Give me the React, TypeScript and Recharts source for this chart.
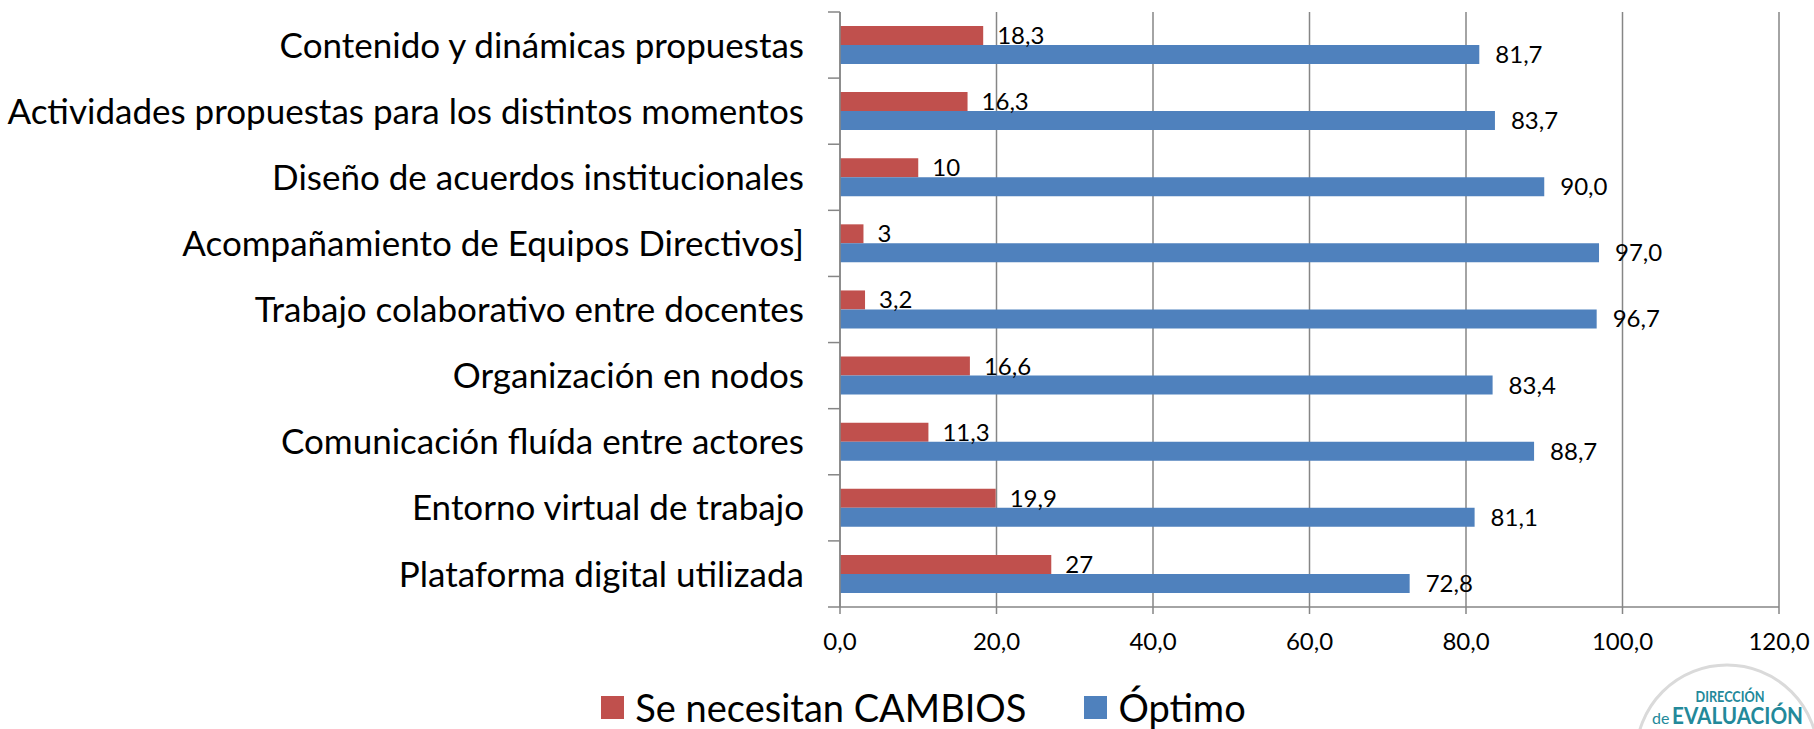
import { BarChart, Bar, XAxis, YAxis, CartesianGrid, Legend, LabelList } from "recharts";

const categories = [
  "Contenido y dinámicas propuestas",
  "Actividades propuestas para los distintos momentos",
  "Diseño de acuerdos institucionales",
  "Acompañamiento de Equipos Directivos]",
  "Trabajo colaborativo entre docentes",
  "Organización en nodos",
  "Comunicación fluída entre actores",
  "Entorno virtual de trabajo",
  "Plataforma digital utilizada",
];
const cambios = [18.3, 16.3, 10, 3, 3.2, 16.6, 11.3, 19.9, 27];
const optimo = [81.7, 83.7, 90.0, 97.0, 96.7, 83.4, 88.7, 81.1, 72.8];
const xTicks = [0, 20, 40, 60, 80, 100, 120];
const seriesNames = ["Se necesitan CAMBIOS", "Óptimo"];

const RED = "#C0504D";
const BLUE = "#4F81BD";
const GRID = "#868686";
const TEAL = "#23899a";
const FONT = "Lato, 'Noto Sans', sans-serif";

const W = 1814;
const H = 729;
const YAXIS_W = 840;

const data = categories.map((name, i) => ({
  name,
  cambios: cambios[i],
  optimo: optimo[i],
}));

const comma = (v: number) => String(v).replace(".", ",");
const comma1 = (v: number) => v.toFixed(1).replace(".", ",");

function CategoryTick(props: any) {
  const { y, payload, index } = props;
  const half = payload?.offset || 33;
  const ax = YAXIS_W;
  return (
    <g>
      <line x1={ax - 12} x2={ax} y1={y - half} y2={y - half} stroke={GRID} strokeWidth={1.5} />
      {index === categories.length - 1 && (
        <line x1={ax - 12} x2={ax} y1={y + half} y2={y + half} stroke={GRID} strokeWidth={1.5} />
      )}
      <text x={ax - 36} y={y} dy="0.36em" textAnchor="end" fontSize={35} fill="#000">
        {payload.value}
      </text>
    </g>
  );
}

function LegendContent(props: any) {
  const items = props.payload || [];
  return (
    <div
      style={{
        display: "flex",
        justifyContent: "center",
        alignItems: "center",
        height: 44,
        paddingLeft: 68,
        boxSizing: "border-box",
        fontSize: 38,
        color: "#000",
      }}
    >
      {items.map((it: any, i: number) => (
        <div key={i} style={{ display: "flex", alignItems: "center", marginRight: i === 0 ? 58 : 0 }}>
          <span style={{ width: 23, height: 23, background: it.color, marginRight: 11, display: "inline-block" }} />
          <span>{it.value}</span>
        </div>
      ))}
    </div>
  );
}

export default function App() {
  return (
    <div style={{ position: "relative", width: W, height: H, fontFamily: FONT, background: "#fff", overflow: "hidden" }}>
      <style>{"body{margin:0}"}</style>
      <BarChart
        width={W}
        height={H}
        data={data}
        layout="vertical"
        margin={{ top: 12, right: 35, left: 0, bottom: 0 }}
        barGap={0}
      >
        <CartesianGrid horizontal={false} stroke={GRID} strokeWidth={1.5} />
        <XAxis
          type="number"
          domain={[0, 120]}
          ticks={xTicks}
          tickFormatter={comma1}
          height={78}
          tickSize={7}
          tickMargin={19}
          stroke={GRID}
          strokeWidth={1.5}
          tick={{ fontSize: 24, fill: "#000" }}
        />
        <YAxis
          type="category"
          dataKey="name"
          width={YAXIS_W}
          interval={0}
          tickLine={false}
          stroke={GRID}
          strokeWidth={1.5}
          tick={<CategoryTick />}
        />
        <Legend verticalAlign="bottom" height={44} content={<LegendContent />} />
        <Bar dataKey="cambios" name={seriesNames[0]} fill={RED} barSize={19} isAnimationActive={false}>
          <LabelList dataKey="cambios" position="right" offset={14} formatter={(v: any) => comma(v)} fill="#000" fontSize={24} />
        </Bar>
        <Bar dataKey="optimo" name={seriesNames[1]} fill={BLUE} barSize={19} isAnimationActive={false}>
          <LabelList dataKey="optimo" position="right" offset={16} formatter={(v: any) => comma1(v)} fill="#000" fontSize={24} />
        </Bar>
      </BarChart>
      <svg width={W} height={H} style={{ position: "absolute", left: 0, top: 0, pointerEvents: "none" }}>
        <circle cx={1727} cy={756} r={91} fill="none" stroke="#dadada" strokeWidth={3} />
        <text x={1730} y={702} textAnchor="middle" fontSize={15} fontWeight={700} fill={TEAL} textLength={69} lengthAdjust="spacingAndGlyphs">
          DIRECCIÓN
        </text>
        <text x={1652} y={724} fontSize={16} fill={TEAL}>de</text>
        <text x={1672} y={724} fontSize={22} fontWeight={700} fill={TEAL} textLength={131} lengthAdjust="spacingAndGlyphs">
          EVALUACIÓN
        </text>
      </svg>
    </div>
  );
}
